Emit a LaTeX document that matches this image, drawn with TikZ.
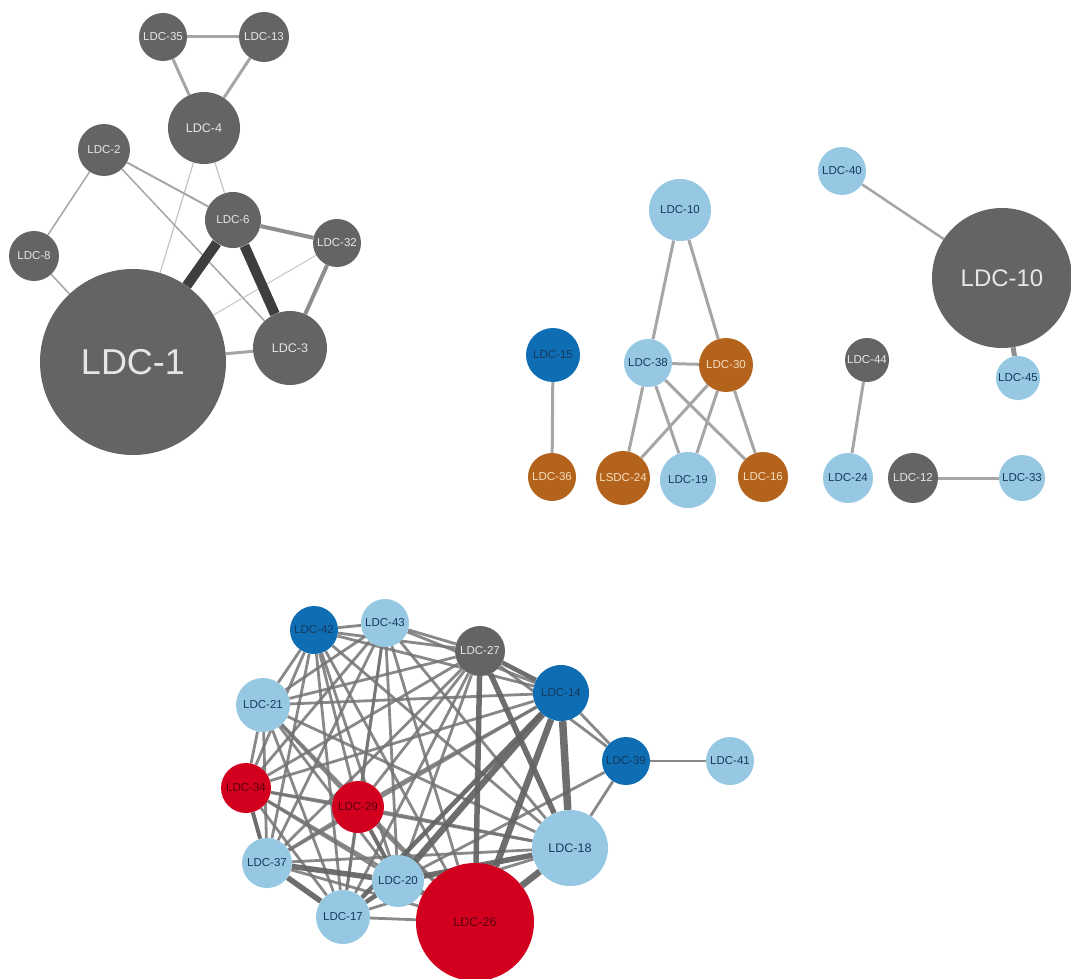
\documentclass[tikz,border=0pt]{standalone}
\usepackage{fontspec}
\setmainfont{Liberation Sans}
\usetikzlibrary{backgrounds}
\definecolor{ngray}{HTML}{646464}
\definecolor{tgray}{HTML}{E6E6E6}
\definecolor{nlblue}{HTML}{96C8E4}
\definecolor{ndblue}{HTML}{0E6DB3}
\definecolor{tnavy}{HTML}{173A5E}
\definecolor{norange}{HTML}{B4631C}
\definecolor{torange}{HTML}{F6DDBE}
\definecolor{nred}{HTML}{D2001E}
\definecolor{tred}{HTML}{5C0010}
\definecolor{eA}{HTML}{A6A6A6}
\definecolor{eB}{HTML}{C4C4C4}
\definecolor{eC}{HTML}{3E3E3E}
\definecolor{eD}{HTML}{8E8E8E}
\definecolor{eE}{HTML}{737373}
\definecolor{eF}{HTML}{626262}
\tikzset{
 nd/.style={circle, inner sep=0pt, minimum size=#1, font=\fontsize{11.5}{12}\selectfont},
 gy/.style={fill=ngray, text=tgray},
 lb/.style={fill=nlblue, text=tnavy},
 db/.style={fill=ndblue, text=tnavy},
 og/.style={fill=norange, text=torange},
 rd/.style={fill=nred, text=tred},
 ed/.style={draw=eA, line width=#1},
 edl/.style={draw=eB, line width=#1},
 edk/.style={draw=eC, line width=#1},
 edm/.style={draw=eD, line width=#1},
 bthin/.style={draw=eE, line width=2.8pt, draw opacity=0.85},
 bthick/.style={draw=eF, line width=#1, draw opacity=0.92},
}
\begin{document}
\begin{tikzpicture}[x=1pt,y=-1pt]
\useasboundingbox (0,0) rectangle (1071,979);
% ---------- top-left cluster ----------
\node[nd=48, gy] (n35) at (163,37) {LDC-35};
\node[nd=50, gy] (n13) at (264,37) {LDC-13};
\node[nd=72, gy, font=\fontsize{12.5}{13}\selectfont] (n4) at (204,128) {LDC-4};
\node[nd=52, gy] (n2) at (104,150) {LDC-2};
\node[nd=50, gy] (n8) at (34,256) {LDC-8};
\node[nd=56, gy] (n6) at (233,220) {LDC-6};
\node[nd=48, gy] (n32) at (337,243) {LDC-32};
\node[nd=74, gy, font=\fontsize{12.5}{13}\selectfont] (n3) at (290,348) {LDC-3};
\node[nd=186, gy, font=\fontsize{36}{40}\selectfont] (n1) at (133,362) {LDC-1};
% ---------- middle cluster ----------
\node[nd=62, lb] (m10) at (680,210) {LDC-10};
\node[nd=54, db] (m15) at (553,355) {LDC-15};
\node[nd=48, og] (m36) at (552,477) {LDC-36};
\node[nd=48, lb] (m38) at (648,363) {LDC-38};
\node[nd=54, og] (m30) at (726,365) {LDC-30};
\node[nd=54, og] (m24) at (623,478) {LSDC-24};
\node[nd=56, lb] (m19) at (688,480) {LDC-19};
\node[nd=50, og] (m16) at (763,477) {LDC-16};
% ---------- right cluster ----------
\node[nd=48, lb] (r40) at (842,171) {LDC-40};
\node[nd=140, gy, font=\fontsize{24}{26}\selectfont] (r10) at (1002,278) {LDC-10};
\node[nd=44, gy] (r44) at (867,360) {LDC-44};
\node[nd=44, lb] (r45) at (1018,378) {LDC-45};
\node[nd=50, lb] (r24) at (848,478) {LDC-24};
\node[nd=50, gy] (r12) at (913,478) {LDC-12};
\node[nd=46, lb] (r33) at (1022,478) {LDC-33};
% ---------- bottom cluster ----------
\node[nd=48, db] (b42) at (314,630) {LDC-42};
\node[nd=48, lb] (b43) at (385,623) {LDC-43};
\node[nd=50, gy] (b27) at (480,651) {LDC-27};
\node[nd=56, db] (b14) at (561,693) {LDC-14};
\node[nd=54, lb] (b21) at (263,705) {LDC-21};
\node[nd=48, db] (b39) at (626,761) {LDC-39};
\node[nd=48, lb] (b41) at (730,761) {LDC-41};
\node[nd=50, rd] (b34) at (246,788) {LDC-34};
\node[nd=52, rd] (b29) at (358,807) {LDC-29};
\node[nd=76, lb, font=\fontsize{12.5}{13}\selectfont] (b18) at (570,848) {LDC-18};
\node[nd=50, lb] (b37) at (267,863) {LDC-37};
\node[nd=52, lb] (b20) at (398,881) {LDC-20};
\node[nd=54, lb] (b17) at (343,917) {LDC-17};
\node[nd=118, rd, font=\fontsize{12.5}{13}\selectfont] (b26) at (475,922) {LDC-26};
\begin{pgfonlayer}{background}
% top-left edges
\draw[ed=3pt] (n35) -- (n13);
\draw[ed=3pt] (n35) -- (n4);
\draw[ed=3pt] (n13) -- (n4);
\draw[edl=1.2pt] (n4) -- (n6);
\draw[edl=1.2pt] (n4) -- (n1);
\draw[ed=1.5pt] (n2) -- (n8);
\draw[ed=2pt] (n2) -- (n6);
\draw[ed=1.5pt] (n2) -- (n3);
\draw[ed=1.5pt] (n8) -- (n1);
\draw[edl=1pt] (n32) -- (n1);
\draw[edm=4pt] (n6) -- (n32);
\draw[edm=4pt] (n32) -- (n3);
\draw[ed=3pt] (n1) -- (n3);
\draw[edk=10pt] (n6) -- (n1);
\draw[edk=10pt] (n6) -- (n3);
% middle edges
\foreach \a/\b in {m10/m38, m10/m30, m15/m36, m38/m30, m38/m24, m38/m19, m38/m16, m30/m24, m30/m19, m30/m16}
  \draw[ed=3pt] (\a) -- (\b);
% right edges
\draw[ed=2.5pt] (r40) -- (r10);
\draw[edm=5pt] (r10) -- (r45);
\draw[ed=3pt] (r44) -- (r24);
\draw[ed=3pt] (r12) -- (r33);
% bottom edges
\foreach \a/\b in {42/43,42/27,42/14,42/21,42/34,42/29,42/18,42/37,42/20,42/17,42/26,
  43/27,43/14,43/21,43/34,43/29,43/18,43/37,43/20,43/17,43/26,
  27/21,27/34,27/29,27/37,27/20,27/17,
  14/21,14/34,14/29,14/37,
  21/34,21/29,21/18,21/37,21/20,21/17,21/26,
  34/29,34/18,34/20,34/17,34/26,
  29/18,29/37,29/17,29/26,
  18/37,18/17,
  37/26,20/26,17/26,
  14/39,27/39,39/18,39/20,39/41}
  \draw[bthin] (b\a) -- (b\b);
\draw[bthick=4.5pt] (b27) -- (b14);
\draw[bthick=6.5pt] (b14) -- (b20);
\draw[bthick=6.5pt] (b14) -- (b26);
\draw[bthick=7.5pt] (b14) -- (b18);
\draw[bthick=4.5pt] (b14) -- (b17);
\draw[bthick=5.5pt] (b27) -- (b26);
\draw[bthick=5.5pt] (b27) -- (b18);
\draw[bthick=6.5pt] (b18) -- (b26);
\draw[bthick=5.5pt] (b18) -- (b20);
\draw[bthick=5.5pt] (b37) -- (b20);
\draw[bthick=5.5pt] (b37) -- (b17);
\draw[bthick=4.5pt] (b20) -- (b17);
\draw[bthick=4pt] (b29) -- (b20);
\draw[bthick=4pt] (b34) -- (b37);
\end{pgfonlayer}
\end{tikzpicture}
\end{document}
